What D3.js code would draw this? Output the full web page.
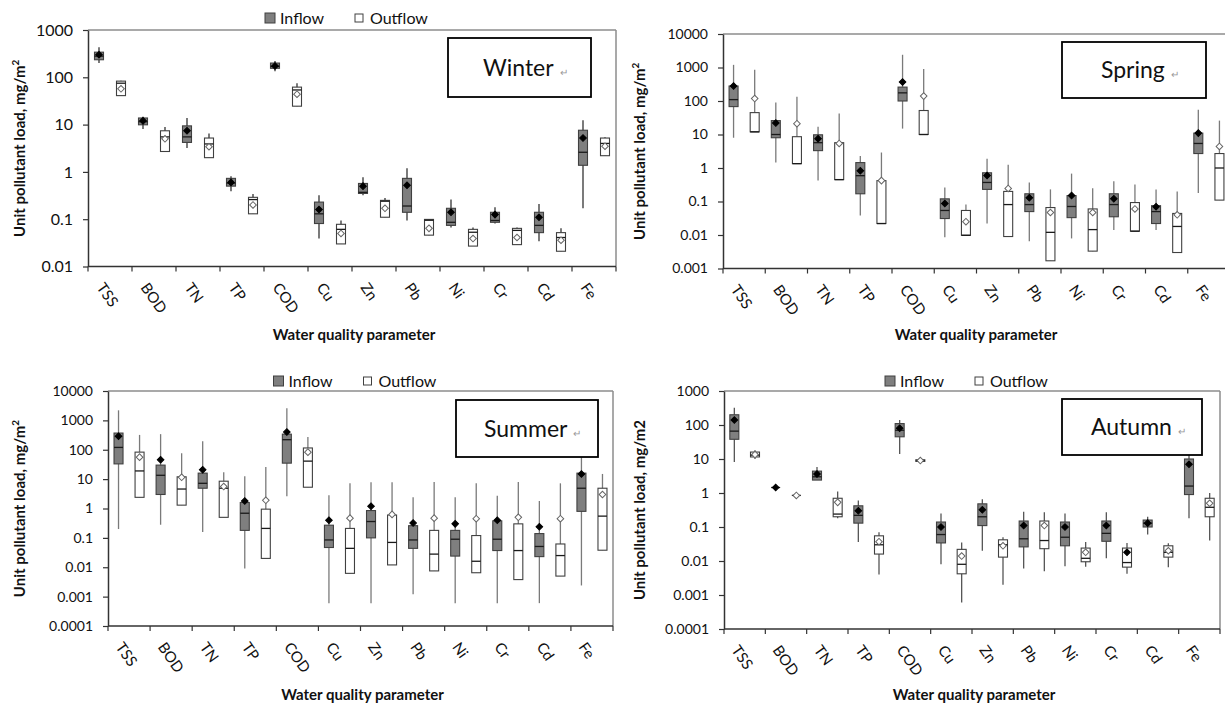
<!DOCTYPE html>
<html>
<head>
<meta charset="utf-8">
<script src="https://cdn.jsdelivr.net/npm/d3@7"></script>
<style>
  body { margin: 0; background: #fff; }
  text { font-family: Lato, "Open Sans", sans-serif; fill: #111; }
</style>
</head>
<body>
<svg width="1225" height="707"></svg>
<script>
const categories = ["TSS", "BOD", "TN", "TP", "COD", "Cu", "Zn", "Pb", "Ni", "Cr", "Cd", "Fe"];

// rows: [min, q1, median, q3, max, mean]  (mg/m2)
const winterInflow = [
  [200, 235, 280, 340, 430, 300], [8.1, 9.9, 11.5, 13.8, 14.6, 12], [3.2, 4.2, 5.5, 9.4, 13.8, 7.4],
  [0.39, 0.5, 0.58, 0.73, 0.81, 0.6], [135, 155, 170, 200, 220, 173], [0.039, 0.081, 0.13, 0.23, 0.32, 0.16],
  [0.32, 0.35, 0.37, 0.57, 0.77, 0.5], [0.094, 0.14, 0.19, 0.73, 1.2, 0.52], [0.067, 0.074, 0.086, 0.17, 0.26, 0.14],
  [0.081, 0.086, 0.094, 0.14, 0.18, 0.125], [0.034, 0.052, 0.074, 0.14, 0.21, 0.11], [0.17, 1.38, 2.6, 7.6, 12.3, 5.2]
];
const winterOutflow = [
  [41, 41, 75, 83, 85, 57], [2.7, 2.7, 5.5, 7.4, 8.9, 5.0], [2.0, 2.0, 3.9, 5.2, 6.5, 3.4],
  [0.13, 0.13, 0.26, 0.29, 0.34, 0.2], [24.5, 24.5, 54, 62, 75, 44], [0.03, 0.03, 0.061, 0.078, 0.094, 0.05],
  [0.11, 0.11, 0.24, 0.25, 0.28, 0.17], [0.046, 0.046, 0.095, 0.099, 0.1, 0.064], [0.027, 0.027, 0.053, 0.061, 0.067, 0.039],
  [0.029, 0.029, 0.058, 0.064, 0.067, 0.041], [0.021, 0.021, 0.041, 0.052, 0.064, 0.036], [2.2, 2.2, 4.0, 5.2, 5.4, 3.5]
];
const springInflow = [
  [8, 68, 110, 280, 1200, 280], [1.45, 8, 10, 26, 90, 22], [0.42, 3.3, 5.7, 9.8, 17, 7.5],
  [0.038, 0.17, 0.59, 1.45, 2.3, 0.83], [15, 100, 175, 260, 2400, 370], [0.0085, 0.031, 0.054, 0.12, 0.26, 0.087],
  [0.022, 0.23, 0.37, 0.72, 1.9, 0.6], [0.0065, 0.05, 0.081, 0.17, 0.37, 0.13], [0.0079, 0.033, 0.071, 0.15, 0.68, 0.15],
  [0.014, 0.035, 0.081, 0.17, 0.4, 0.12], [0.014, 0.022, 0.05, 0.075, 0.23, 0.07], [0.18, 2.7, 5.4, 11, 55, 11]
];
const springOutflow = [
  [12, 12, 12, 45, 850, 118], [1.35, 1.35, 1.35, 8.6, 133, 21], [0.45, 0.45, 0.45, 5.7, 42, 5.4],
  [0.022, 0.022, 0.022, 0.42, 2.9, 0.42], [10, 10, 10, 52, 900, 140], [0.0098, 0.0098, 0.0098, 0.054, 0.081, 0.025],
  [0.009, 0.009, 0.081, 0.2, 1.26, 0.245], [0.0017, 0.0017, 0.012, 0.066, 0.23, 0.047], [0.0033, 0.0033, 0.0145, 0.06, 0.25, 0.047],
  [0.013, 0.013, 0.013, 0.093, 0.32, 0.06], [0.003, 0.003, 0.018, 0.044, 0.2, 0.04], [0.11, 0.11, 1.0, 2.7, 26, 4.4]
];
const summerInflow = [
  [0.2, 33, 120, 370, 2200, 290], [0.28, 3.0, 13.5, 30, 340, 46], [0.16, 4.9, 7.2, 16, 195, 21],
  [0.0091, 0.18, 0.69, 1.6, 12.6, 1.8], [2.6, 35, 220, 340, 2600, 400], [0.0006, 0.047, 0.085, 0.27, 2.8, 0.4],
  [0.0006, 0.1, 0.36, 0.85, 7.9, 1.2], [0.0012, 0.044, 0.085, 0.26, 2.4, 0.32], [0.0006, 0.024, 0.09, 0.18, 2.4, 0.3],
  [0.0006, 0.037, 0.09, 0.38, 2.7, 0.4], [0.0006, 0.023, 0.051, 0.14, 1.8, 0.24], [0.0024, 0.8, 4.9, 16, 130, 15]
];
const summerOutflow = [
  [2.4, 2.4, 19, 83, 320, 56], [1.3, 1.3, 4.6, 12, 76, 11.5], [0.5, 0.5, 4.9, 8.5, 17, 5.6],
  [0.02, 0.02, 0.21, 0.95, 26, 1.9], [5.3, 5.3, 41, 115, 270, 83], [0.0062, 0.0062, 0.044, 0.21, 7.2, 0.47],
  [0.012, 0.012, 0.07, 0.6, 7.9, 0.63], [0.0075, 0.0075, 0.028, 0.18, 8, 0.47], [0.0065, 0.0065, 0.016, 0.12, 7.2, 0.45],
  [0.0038, 0.0038, 0.037, 0.3, 8, 0.5], [0.005, 0.005, 0.025, 0.062, 7.2, 0.45], [0.038, 0.038, 0.55, 4.9, 15, 3.0]
];
const autumnInflow = [
  [8.1, 38, 66, 200, 320, 140], [1.45, 1.45, 1.45, 1.45, 1.45, 1.45], [2.4, 2.4, 3.0, 4.4, 5.8, 3.6],
  [0.036, 0.13, 0.22, 0.42, 0.6, 0.3], [14, 45, 70, 110, 140, 80], [0.008, 0.034, 0.06, 0.14, 0.25, 0.1],
  [0.02, 0.11, 0.2, 0.48, 0.65, 0.32], [0.006, 0.026, 0.045, 0.15, 0.28, 0.11], [0.007, 0.028, 0.05, 0.14, 0.25, 0.1],
  [0.012, 0.038, 0.065, 0.15, 0.27, 0.11], [0.06, 0.1, 0.13, 0.16, 0.2, 0.13], [0.18, 0.9, 1.6, 10, 18, 7]
];
const autumnOutflow = [
  [10, 11.5, 13, 16, 18, 13.5], [0.85, 0.85, 0.85, 0.85, 0.85, 0.85], [0.18, 0.2, 0.24, 0.7, 1.1, 0.53],
  [0.004, 0.016, 0.03, 0.055, 0.07, 0.037], [8, 8.5, 9, 9.5, 10, 9], [0.0006, 0.0042, 0.008, 0.022, 0.035, 0.014],
  [0.002, 0.013, 0.03, 0.042, 0.05, 0.028], [0.005, 0.023, 0.04, 0.15, 0.27, 0.11], [0.0068, 0.0095, 0.012, 0.024, 0.036, 0.018],
  [0.0042, 0.0066, 0.009, 0.024, 0.034, 0.018], [0.0066, 0.013, 0.018, 0.028, 0.033, 0.02], [0.04, 0.2, 0.38, 0.7, 1.0, 0.5]
];

const winterTicks = [0.01, 0.1, 1, 10, 100, 1000];
const springTicks = [0.001, 0.01, 0.1, 1, 10, 100, 1000, 10000];
const summerTicks = [0.0001, 0.001, 0.01, 0.1, 1, 10, 100, 1000, 10000];
const autumnTicks = [0.0001, 0.001, 0.01, 0.1, 1, 10, 100, 1000];
const autumnBlackMeans = ["Cr"]; // outflow means drawn filled in the autumn panel

const svg = d3.select('svg');

const panels = [
  { name: 'Winter', inflow: winterInflow, outflow: winterOutflow, ticks: winterTicks,
    left: 88, right: 616, top: 30, bottom: 266.5, serif: false, whisker: '#333',
    legendY: 18, box: [448, 38, 143, 59], labelX: 483, ytitleX: 20, xtitleY: 335, unit: 'mg/m', sup: '2' },
  { name: 'Spring', inflow: springInflow, outflow: springOutflow, ticks: springTicks,
    left: 723, right: 1230, top: 34, bottom: 268.5, serif: true, whisker: '#7a7a7a',
    legendY: null, box: [1062, 42, 144, 56], labelX: 1101, ytitleX: 640, xtitleY: 335, unit: 'mg/m', sup: '2' },
  { name: 'Summer', inflow: summerInflow, outflow: summerOutflow, ticks: summerTicks,
    left: 108, right: 613, top: 391, bottom: 626, serif: true, whisker: '#7a7a7a',
    legendY: 381, box: [456, 400, 142, 57], labelX: 484, ytitleX: 20, xtitleY: 695, unit: 'mg/m', sup: '2' },
  { name: 'Autumn', inflow: autumnInflow, outflow: autumnOutflow, ticks: autumnTicks,
    left: 724, right: 1220, top: 391, bottom: 629, serif: true, whisker: '#555',
    legendY: 381, box: [1062, 399, 140, 56], labelX: 1091, ytitleX: 640, xtitleY: 695, unit: 'mg/m2', sup: '',
    blackMeans: autumnBlackMeans }
];

function tickText(d) {
  return d >= 1 ? d3.format('d')(d) : d3.format('.' + Math.round(-Math.log10(d)) + 'f')(d);
}

function drawPanel(p) {
  const g = svg.append('g');
  const x = d3.scaleBand().domain(categories).range([p.left, p.right]);
  const y = d3.scaleLog().domain([p.ticks[0], p.ticks[p.ticks.length - 1]]).range([p.bottom, p.top]);
  const bw = x.bandwidth();
  const boxW = 9;

  // plot frame (top + right)
  g.append('line').attr('x1', p.left).attr('x2', p.right).attr('y1', p.top).attr('y2', p.top)
    .attr('stroke', '#8c8c8c').attr('stroke-width', 1.5);
  g.append('line').attr('x1', p.right).attr('x2', p.right).attr('y1', p.top).attr('y2', p.bottom)
    .attr('stroke', '#8c8c8c').attr('stroke-width', 1.5);

  // y axis
  const yAxis = g.append('g').attr('transform', `translate(${p.left},0)`)
    .call(d3.axisLeft(y).tickValues(p.ticks).tickFormat(tickText).tickSize(5).tickSizeOuter(0).tickPadding(10));
  yAxis.select('.domain').attr('stroke', '#333').attr('stroke-width', 1.5);
  yAxis.selectAll('.tick line').attr('stroke', '#333').attr('stroke-width', 1.2);
  yAxis.selectAll('.tick text')
    .attr('font-family', p.serif ? '"DejaVu Serif", serif' : 'Lato, sans-serif')
    .attr('font-size', p.serif ? 14 : 16).attr('fill', '#222');

  // x axis, ticks between categories
  g.append('line').attr('x1', p.left).attr('x2', p.right).attr('y1', p.bottom).attr('y2', p.bottom)
    .attr('stroke', '#333').attr('stroke-width', 1.5);
  const edges = categories.map(c => x(c)).concat([p.right]);
  g.selectAll('.xtick').data(edges).join('line').attr('class', 'xtick')
    .attr('x1', d => d).attr('x2', d => d).attr('y1', p.bottom).attr('y2', p.bottom + 5)
    .attr('stroke', '#333').attr('stroke-width', 1.2);
  g.selectAll('.xlab').data(categories).join('text').attr('class', 'xlab')
    .attr('transform', c => `translate(${x(c) + bw / 2 - 14},${p.bottom + 21}) rotate(55)`)
    .attr('font-size', 15).text(c => c);

  // boxes
  const series = [
    { rows: p.inflow, off: -0.25, fill: '#7f7f7f', meanFill: '#000', meanStroke: '#000' },
    { rows: p.outflow, off: 0.25, fill: '#fff', meanFill: '#fff', meanStroke: '#666' }
  ];
  series.forEach((s, si) => {
    const data = s.rows.map((r, i) => ({ cat: categories[i], min: r[0], q1: r[1], med: r[2], q3: r[3], max: r[4], mean: r[5] }));
    const bx = g.append('g').selectAll('g').data(data).join('g')
      .attr('transform', d => `translate(${x(d.cat) + bw / 2 + s.off * bw},0)`);
    bx.append('line').attr('y1', d => y(d.min)).attr('y2', d => y(d.max))
      .attr('stroke', p.whisker).attr('stroke-width', 1.3);
    bx.append('rect').attr('x', -boxW / 2).attr('width', boxW)
      .attr('y', d => y(d.q3)).attr('height', d => y(d.q1) - y(d.q3))
      .attr('fill', s.fill).attr('stroke', '#404040').attr('stroke-width', 1.1);
    bx.append('line').attr('x1', -boxW / 2).attr('x2', boxW / 2)
      .attr('y1', d => y(d.med)).attr('y2', d => y(d.med))
      .attr('stroke', '#1a1a1a').attr('stroke-width', 1.3);
    bx.append('path').attr('d', d3.symbol(d3.symbolSquare, 22)())
      .attr('transform', d => `translate(0,${y(d.mean)}) rotate(45)`)
      .attr('fill', d => (si === 1 && p.blackMeans && p.blackMeans.includes(d.cat)) ? '#000' : s.meanFill)
      .attr('stroke', d => (si === 1 && p.blackMeans && p.blackMeans.includes(d.cat)) ? '#000' : s.meanStroke)
      .attr('stroke-width', 1);
  });

  // legend
  if (p.legendY) {
    const cx = (p.left + p.right) / 2;
    g.append('rect').attr('x', cx - 87).attr('y', p.legendY - 5).attr('width', 10).attr('height', 10)
      .attr('fill', '#7f7f7f').attr('stroke', '#404040');
    g.append('text').attr('x', cx - 72).attr('y', p.legendY).attr('dy', '0.35em').attr('font-size', 16).text('Inflow');
    g.append('rect').attr('x', cx + 3).attr('y', p.legendY - 4).attr('width', 8).attr('height', 8)
      .attr('fill', '#fff').attr('stroke', '#404040');
    g.append('text').attr('x', cx + 18).attr('y', p.legendY).attr('dy', '0.35em').attr('font-size', 16).text('Outflow');
  }

  // season label box
  g.append('rect').attr('x', p.box[0]).attr('y', p.box[1]).attr('width', p.box[2]).attr('height', p.box[3])
    .attr('fill', '#fff').attr('stroke', '#000').attr('stroke-width', 1.8);
  const lbl = g.append('text').attr('x', p.labelX).attr('y', p.box[1] + p.box[3] / 2).attr('dy', '0.35em')
    .attr('font-size', 23).text(p.name);
  lbl.append('tspan').attr('dx', 6).attr('font-size', 10).style('fill', '#999').text('\u21B5');

  // axis titles
  const yt = g.append('text')
    .attr('transform', `translate(${p.ytitleX},${(p.top + p.bottom) / 2}) rotate(-90)`)
    .attr('text-anchor', 'middle').attr('dy', '0.35em').attr('font-weight', 'bold').attr('font-size', 15)
    .text('Unit pollutant load, ' + p.unit);
  if (p.sup) yt.append('tspan').attr('baseline-shift', 'super').attr('font-size', 10).text(p.sup);
  g.append('text').attr('x', (p.left + Math.min(p.right, 1225)) / 2 + 2).attr('y', p.xtitleY).attr('dy', '0.35em')
    .attr('text-anchor', 'middle').attr('font-weight', 'bold').attr('font-size', 15).text('Water quality parameter');
}

panels.forEach(drawPanel);
</script>
</body>
</html>
